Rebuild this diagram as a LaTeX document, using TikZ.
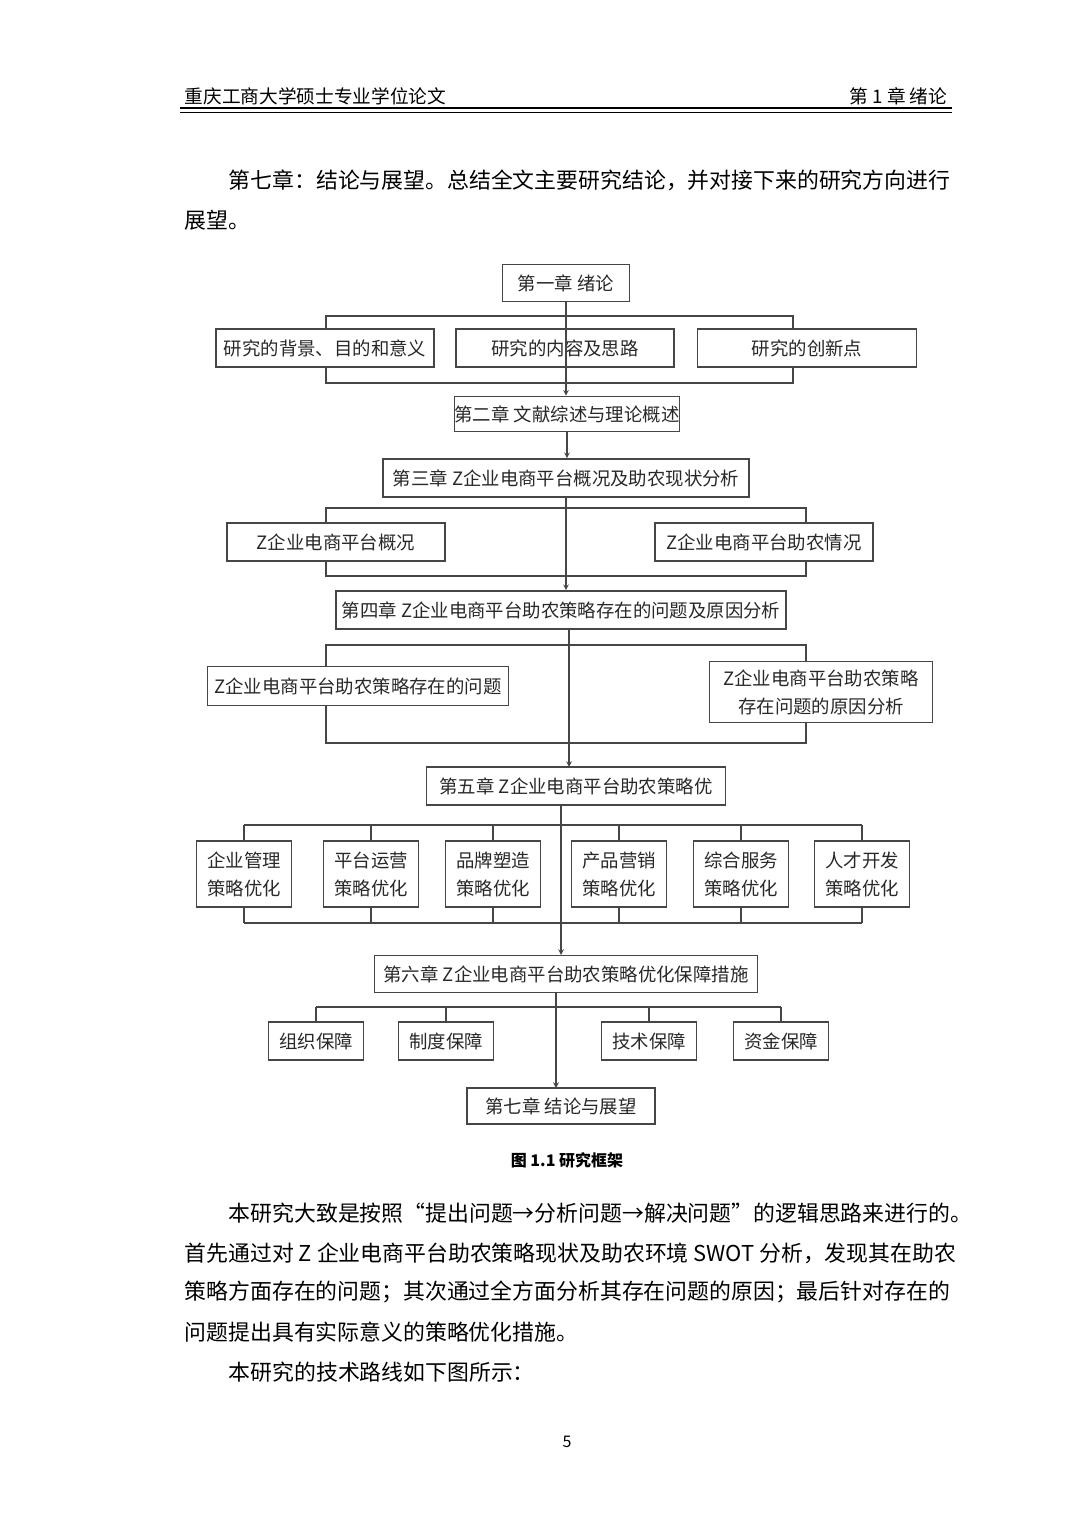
\documentclass[tikz,border=0pt]{standalone}
\usepackage{fontspec}
\setmainfont{Noto Sans CJK SC}
\usetikzlibrary{positioning}
\definecolor{ink}{RGB}{40, 40, 40}
\definecolor{line}{RGB}{70, 70, 70}

\tikzset{
  box/.style={draw=line, line width=1.2pt, inner sep=0pt, font=\fontsize{13.8}{16}\selectfont, text=ink, align=center},
  arr/.style={->, >=stealth, draw=line, line width=0.9pt},
  brk/.style={draw=line, line width=1.1pt},
  body/.style={anchor=west, font=\fontsize{16.4}{18}\selectfont, text=black}
}

\begin{document}
\begin{tikzpicture}[x=0.75pt, y=-0.75pt]
  \useasboundingbox[fill=white] (0, 0) rectangle (1080, 1528);

  % header
  \node[body, font=\fontsize{14}{16}\selectfont] (hl) at (180, 96) {重庆工商大学硕士专业学位论文};
  \node[anchor=east, font=\fontsize{14}{16}\selectfont] (hr) at (952, 96) {第 1 章\ 绪论};
  \draw[line width=1.6pt] (180, 108) -- (952, 108);
  \draw[line width=0.6pt] (180, 112) -- (952, 112);

  % paragraph before the figure
  \node[body] (p1) at (224, 180) {第七章：结论与展望。总结全文主要研究结论，并对接下来的研究方向进行};
  \node[body] (p2) at (180, 220) {展望。};

  % chapters
  \node[box, minimum width=127*0.75pt, minimum height=37*0.75pt] (c1) at (566, 283) {第一章\ 绪论};
  \node[box, minimum width=218*0.75pt, minimum height=35*0.75pt] (c2) at (567, 414) {第二章\ 文献综述与理论概述};
  \node[box, minimum width=366*0.75pt, minimum height=38*0.75pt] (c3) at (566, 478) {第三章\ Z企业电商平台概况及助农现状分析};
  \node[box, minimum width=450*0.75pt, minimum height=38*0.75pt] (c4) at (561, 610) {第四章\ Z企业电商平台助农策略存在的问题及原因分析};
  \node[box, minimum width=299*0.75pt, minimum height=38*0.75pt] (c5) at (576, 786) {第五章\ Z企业电商平台助农策略优};
  \node[box, minimum width=383*0.75pt, minimum height=37*0.75pt] (c6) at (566, 974) {第六章\ Z企业电商平台助农策略优化保障措施};
  \node[box, minimum width=188*0.75pt, minimum height=36*0.75pt] (c7) at (561, 1106) {第七章\ 结论与展望};

  % chapter one parts
  \node[box, minimum width=218*0.75pt, minimum height=38*0.75pt] (bg) at (325, 348) {研究的背景、目的和意义};
  \node[box, minimum width=218*0.75pt, minimum height=38*0.75pt] (nr) at (565, 348) {研究的内容及思路};
  \node[box, minimum width=219*0.75pt, minimum height=38*0.75pt] (cx) at (807, 348) {研究的创新点};
  \draw[brk] (326, 329) -- (326, 316) -- (793, 316) -- (793, 329);
  \draw[brk] (326, 367) -- (326, 383) -- (793, 383) -- (793, 367);
  \draw[arr] (c1.south) -- (c1.south |- c2.north);
  \draw[arr] (c2.south) -- (c2.south |- c3.north);

  % chapter three parts
  \node[box, minimum width=218*0.75pt, minimum height=38*0.75pt] (gk) at (336, 542) {Z企业电商平台概况};
  \node[box, minimum width=218*0.75pt, minimum height=38*0.75pt] (qk) at (764, 542) {Z企业电商平台助农情况};
  \draw[brk] (326, 523) -- (326, 508) -- (806, 508) -- (806, 523);
  \draw[brk] (326, 561) -- (326, 576) -- (806, 576) -- (806, 561);
  \draw[arr] (c3.south) -- (c3.south |- c4.north);

  % chapter four parts
  \node[box, minimum width=301*0.75pt, minimum height=39*0.75pt] (wt) at (358, 686) {Z企业电商平台助农策略存在的问题};
  \node[box, minimum width=223*0.75pt, minimum height=61*0.75pt, font=\fontsize{13.8}{21}\selectfont] (yy) at (821, 692) {Z企业电商平台助农策略\\存在问题的原因分析};
  \draw[brk] (326, 667) -- (326, 645) -- (806, 645) -- (806, 662);
  \draw[brk] (326, 706) -- (326, 743) -- (806, 743) -- (806, 723);
  \draw[arr] (569, 630) -- (569, 767);

  % chapter five parts
  \foreach \n/\x/\t in {q1/244/企业管理, q2/371/平台运营, q3/493/品牌塑造, q4/619/产品营销, q5/741/综合服务, q6/862/人才开发} {
    \node[box, minimum width=95*0.75pt, minimum height=66*0.75pt, font=\fontsize{13.8}{21}\selectfont] (\n) at (\x, 874) {\t\\策略优化};
    \draw[brk] (\x, 825) -- (\n.north);
    \draw[brk] (\x, 923) -- (\n.south);
  }
  \draw[brk] (244, 825) -- (862, 825);
  \draw[brk] (244, 923) -- (862, 923);
  \draw[arr] (561, 805) -- (561, 955);

  % chapter six parts
  \foreach \n/\x/\t in {s1/316/组织保障, s2/446/制度保障, s3/649/技术保障, s4/781/资金保障} {
    \node[box, minimum width=95*0.75pt, minimum height=38*0.75pt] (\n) at (\x, 1041) {\t};
    \draw[brk] (\x, 1007) -- (\n.north);
  }
  \draw[brk] (316, 1007) -- (781, 1007);
  \draw[arr] (556, 992) -- (556, 1088);

  % caption
  \node[font=\fontsize{12}{14}\selectfont\bfseries] (cap) at (567, 1160) {图 1.1 研究框架};

  % paragraph after the figure
  \node[body] (t1) at (224, 1213) {本研究大致是按照“提出问题→分析问题→解决问题”的逻辑思路来进行的。};
  \node[body] (t2) at (180, 1253) {首先通过对 Z 企业电商平台助农策略现状及助农环境 SWOT 分析，发现其在助农};
  \node[body] (t3) at (180, 1292) {策略方面存在的问题；其次通过全方面分析其存在问题的原因；最后针对存在的};
  \node[body] (t4) at (180, 1332) {问题提出具有实际意义的策略优化措施。};
  \node[body] (t5) at (224, 1372) {本研究的技术路线如下图所示：};

  % page number
  \node[font=\fontsize{12}{14}\selectfont] (pg) at (567, 1442) {5};
\end{tikzpicture}
\end{document}
